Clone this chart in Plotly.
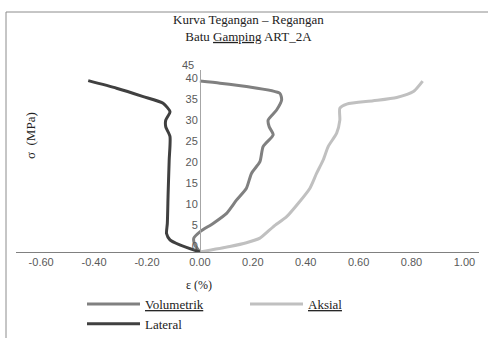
import plotly.graph_objects as go

# ---- data ----
aksial_eps = [0.0, 0.113, 0.176, 0.227, 0.277, 0.328, 0.372, 0.416, 0.441, 0.466, 0.485, 0.517,
              0.529, 0.529, 0.555, 0.655, 0.744, 0.807, 0.842]
aksial_sig = [0.0, 1.3, 2.2, 3.3, 6.0, 8.4, 11.6, 15.2, 18.7, 21.9, 25.1, 28.3,
              31.4, 34.2, 35.2, 36.0, 36.8, 38.2, 40.7]

vol_eps = [0.0, -0.019, -0.023, 0.0, 0.050, 0.101, 0.139, 0.176, 0.195, 0.227, 0.239, 0.277,
           0.262, 0.258, 0.290, 0.309, 0.302, 0.176, 0.076, 0.0]
vol_sig = [0.0, 1.7, 3.3, 4.8, 6.8, 9.2, 12.4, 15.2, 18.7, 21.5, 25.1, 27.9,
           29.8, 31.4, 33.8, 36.2, 37.8, 39.4, 40.2, 40.7]

lat_eps = [0.0, -0.076, -0.113, -0.126, -0.123, -0.120, -0.116, -0.113, -0.129, -0.129,
           -0.113, -0.139, -0.214, -0.315, -0.422]
lat_sig = [0.0, 1.7, 2.9, 4.4, 6.8, 14.0, 21.9, 27.5, 29.8, 31.4,
           33.4, 35.4, 37.0, 39.0, 40.8]

x_ticks = [-0.6, -0.4, -0.2, 0.0, 0.2, 0.4, 0.6, 0.8, 1.0]
y_ticks = [0, 5, 10, 15, 20, 25, 30, 35, 40]

serif = "Liberation Serif"
sans = "Liberation Sans"

fig = go.Figure()
fig.add_trace(go.Scatter(x=vol_eps, y=vol_sig, mode="lines", name="<u>Volumetrik</u>",
                         line=dict(color="#808080", width=3, shape="spline", smoothing=0.6)))
fig.add_trace(go.Scatter(x=aksial_eps, y=aksial_sig, mode="lines", name="<u>Aksial</u>",
                         line=dict(color="#c0c0c0", width=3, shape="spline", smoothing=0.6)))
fig.add_trace(go.Scatter(x=lat_eps, y=lat_sig, mode="lines", name="Lateral",
                         line=dict(color="#404040", width=3, shape="spline", smoothing=0.6)))

W, H = 488, 338
L, T, PW, PH = 16, 70, 463, 182

fig.update_layout(
    width=W, height=H,
    margin=dict(l=L, r=W - L - PW, t=T, b=H - T - PH, autoexpand=False),
    paper_bgcolor="white", plot_bgcolor="white",
    showlegend=True,
    legend=dict(orientation="h", xref="container", x=82 / W, xanchor="left",
                yref="container", y=1 - 289 / H, yanchor="top",
                font=dict(family=serif, size=13, color="#222"),
                entrywidth=95, entrywidthmode="pixels", itemwidth=53,
                bgcolor="rgba(0,0,0,0)", tracegroupgap=0),
    xaxis=dict(range=[-0.695, 1.055], tickvals=x_ticks,
               ticktext=[f"{v:.2f}" for v in x_ticks],
               showgrid=False, zeroline=False, showline=True, linecolor="#808080",
               linewidth=1, ticks="", tickfont=dict(family=sans, size=11, color="#595959"),
               fixedrange=True),
    yaxis=dict(range=[0, 43.33], tickvals=y_ticks, showgrid=False, zeroline=False,
               showline=True, linecolor="#a6a6a6", linewidth=1, ticks="",
               anchor="free", position=(200 - L) / PW, ticklabelshift=-6,
               tickfont=dict(family=sans, size=11, color="#595959"), fixedrange=True),
)

# outer chart border
fig.add_shape(type="rect", xref="paper", yref="paper",
              x0=(6 - L) / PW, x1=1.3, y0=-1.0, y1=(252 - 12) / PH,
              line=dict(color="#8c8c8c", width=1), fillcolor="rgba(0,0,0,0)", layer="below")

# title
fig.add_annotation(text="Kurva Tegangan – Regangan<br>Batu <u>Gamping</u> ART_2A",
                   xref="paper", yref="paper", x=(249 - L) / PW, y=(252 - 28.5) / PH,
                   xanchor="center", yanchor="middle", showarrow=False,
                   font=dict(family=serif, size=13, color="#222"))
# top y tick label (clamped in reference)
fig.add_annotation(text="45", xref="paper", yref="paper", x=(196 - L) / PW, y=(252 - 65) / PH,
                   xanchor="right", yanchor="middle", showarrow=False,
                   font=dict(family=sans, size=11, color="#595959"))
# axis titles
fig.add_annotation(text="σ  (MPa)", xref="paper", yref="paper", x=(30 - L) / PW,
                   y=(252 - 136) / PH, textangle=-90, showarrow=False,
                   xanchor="center", yanchor="middle",
                   font=dict(family=serif, size=13, color="#222"))
fig.add_annotation(text="ε (%)", xref="paper", yref="paper", x=(199 - L) / PW,
                   y=(252 - 285) / PH, showarrow=False, xanchor="center", yanchor="middle",
                   font=dict(family=serif, size=12, color="#222"))

fig.write_html("out.html")
